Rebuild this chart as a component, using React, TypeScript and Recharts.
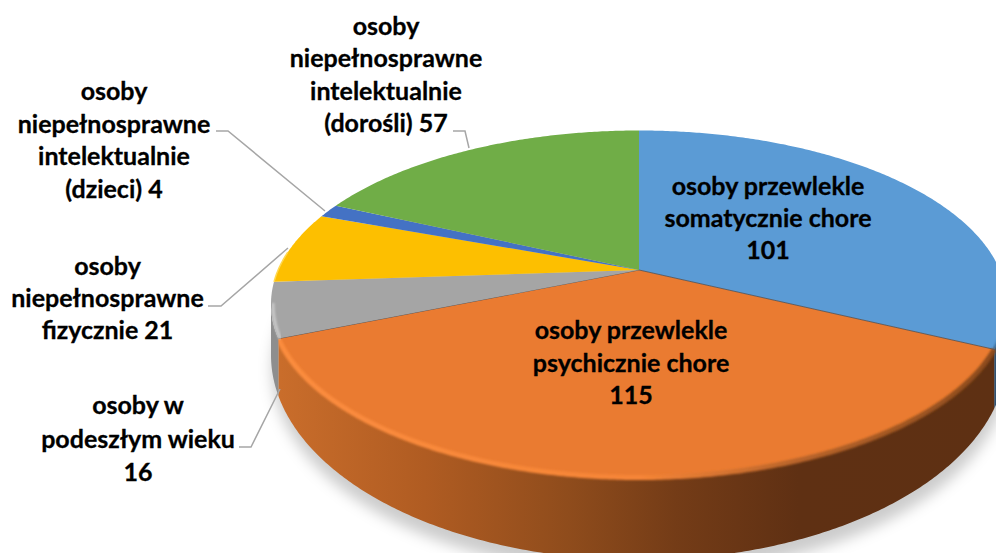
import React from 'react';
import { PieChart, Pie } from 'recharts';

const categories = [
  'osoby przewlekle somatycznie chore',
  'osoby przewlekle psychicznie chore',
  'osoby w podeszłym wieku',
  'osoby niepełnosprawne fizycznie',
  'osoby niepełnosprawne intelektualnie (dzieci)',
  'osoby niepełnosprawne intelektualnie (dorośli)',
];
const values = [101, 115, 16, 21, 4, 57];
const colors = ['#5b9bd5', '#ea7b31', '#a5a5a5', '#fdbf00', '#4472c4', '#70ad47'];
const labelLines = [
  ['osoby przewlekle', 'somatycznie chore', '101'],
  ['osoby przewlekle', 'psychicznie chore', '115'],
  ['osoby w', 'podeszłym wieku', '16'],
  ['osoby', 'niepełnosprawne', 'fizycznie 21'],
  ['osoby', 'niepełnosprawne', 'intelektualnie', '(dzieci) 4'],
  ['osoby', 'niepełnosprawne', 'intelektualnie', '(dorośli) 57'],
];

const rows = categories.map((name, i) => ({ name, value: values[i] }));

// layout of the hand-placed data labels and their leader lines
const labelCenterX = [768, 631, 138, 107.5, 114, 386];
const labelFirstY = [194.5, 339, 414, 275, 100, 35];
const labelStep = [32.4, 32.5, 33.5, 32, 32.6, 32.4];
const leaders = [
  '',
  '',
  '239,447 251,447 280,389',
  '208,306 221,306 288,248',
  '216,131 228,131 325,211',
  '453,131 465,131 469,148',
];

const CX = 639;
const CY = 304;
const RY = 173.5;
const RX = 368;
const TILT = 0.196; // apex offset inside the rim ellipse (perspective)
const BOTTOM = { cy: 355, rx: 368, ry: 205 };

function rim(angle: number) {
  const t = ((90 - angle) * Math.PI) / 180;
  const u = Math.sin(t);
  const v = Math.cos(t);
  const d = 1 + TILT * v;
  return { u: (u * Math.sqrt(1 - TILT * TILT)) / d, v: (v + TILT) / d };
}

function sample(a0: number, a1: number) {
  const n = Math.max(2, Math.ceil(Math.abs(a1 - a0) * 2));
  const out: { u: number; v: number }[] = [];
  for (let i = 0; i <= n; i++) out.push(rim(a0 + ((a1 - a0) * i) / n));
  return out;
}

const topPt = (p: { u: number; v: number }, cx: number, cy: number, rx: number, ry: number) =>
  `${(cx + rx * p.u).toFixed(2)},${(cy - ry * p.v).toFixed(2)}`;

function Slice(props: any) {
  const { cx, cy, outerRadius, startAngle, endAngle, fill, index } = props;
  const ry = outerRadius;
  const rx = (outerRadius * RX) / RY;
  const pts = sample(startAngle, endAngle);
  const apex = `${cx},${(cy - ry * TILT).toFixed(2)}`;
  const arc = pts.map((p) => topPt(p, cx, cy, rx, ry));
  const front = pts.filter((p) => p.v <= 0.01);
  let side = '';
  if (front.length > 1) {
    const a = front.map((p) => topPt(p, cx, cy, rx, ry));
    const b = front.map((p) => topPt(p, cx, BOTTOM.cy, BOTTOM.rx, BOTTOM.ry)).reverse();
    side = 'M' + a.concat(b).join('L') + 'Z';
  }
  const sideFill = index === 1 ? 'url(#sideOrange)' : index === 0 ? '#2f5273' : '#8e8e8e';
  return (
    <g>
      {side && <path d={side} fill={sideFill} />}
      <path d={`M${apex}L${arc.join('L')}Z`} fill={fill} />
      {index === 1 && (
        <>
          <path d={'M' + arc.join('L')} fill="none" stroke="url(#bevelOrange)" strokeWidth={5} filter="url(#soft)" />
          <path d={`M${arc[0]}L${apex}L${arc[arc.length - 1]}`} fill="none" stroke="#4b4f55" strokeWidth={1} strokeOpacity={0.8} />
        </>
      )}
      {index === 2 && front.length > 1 && (
        <path d={'M' + front.map((p) => topPt(p, cx, cy, rx - 2, ry)).join('L')} fill="none" stroke="#c9c9c9" strokeWidth={3} filter="url(#soft)" />
      )}
      {index === 0 && (
        <path d={'M' + arc.slice(Math.floor(arc.length * 0.84)).join('L')} fill="none" stroke="#3c6a94" strokeWidth={3} filter="url(#soft)" />
      )}
      {index === 3 && (
        <path d={'M' + arc.slice(0, Math.floor(arc.length * 0.45)).join('L')} fill="none" stroke="#ffd84f" strokeWidth={1.5} />
      )}
    </g>
  );
}

function SliceLabel(props: any) {
  const i = props.index;
  const lines = labelLines[i];
  return (
    <g>
      {leaders[i] && <polyline points={leaders[i]} fill="none" stroke="#a6a6a6" strokeWidth={1.5} />}
      <text
        textAnchor="middle"
        fontFamily="Lato, 'Open Sans', sans-serif"
        fontWeight={700}
        fontSize={25}
        fill="#000"
        stroke="#000"
        strokeWidth={0.3}
      >
        {lines.map((line, k) => (
          <tspan key={k} x={labelCenterX[i]} y={labelFirstY[i] + k * labelStep[i]}>
            {line}
          </tspan>
        ))}
      </text>
    </g>
  );
}

export default function App() {
  return (
    <div style={{ position: 'absolute', left: 0, top: 0, width: 996, height: 553, overflow: 'hidden', background: '#fff' }}>
      <PieChart width={996} height={553} margin={{ top: 0, right: 0, bottom: 0, left: 0 }}>
        <defs>
          <linearGradient id="sideOrange" gradientUnits="userSpaceOnUse" x1={280} y1={0} x2={1000} y2={0}>
            <stop offset={0} stopColor="#c96d2b" />
            <stop offset={0.2} stopColor="#b05c22" />
            <stop offset={0.4} stopColor="#8f4c1c" />
            <stop offset={0.55} stopColor="#743c17" />
            <stop offset={0.72} stopColor="#5f3013" />
            <stop offset={1} stopColor="#5e3013" />
          </linearGradient>
          <linearGradient id="bevelOrange" gradientUnits="userSpaceOnUse" x1={280} y1={0} x2={1000} y2={0}>
            <stop offset={0} stopColor="#fb8c3e" />
            <stop offset={0.5} stopColor="#f68537" />
            <stop offset={0.72} stopColor="#b8642a" />
            <stop offset={1} stopColor="#8a4a1c" />
          </linearGradient>
          <filter id="soft" x="-5%" y="-5%" width="110%" height="110%">
            <feGaussianBlur stdDeviation={1.3} />
          </filter>
          <filter id="shadow" x="-10%" y="-10%" width="120%" height="120%">
            <feGaussianBlur stdDeviation={7} />
          </filter>
        </defs>
        <ellipse cx={640} cy={369} rx={368} ry={205} fill="#000" fillOpacity={0.2} filter="url(#shadow)" />
        <Pie
          data={rows}
          dataKey="value"
          nameKey="name"
          cx={CX}
          cy={CY}
          innerRadius={0}
          outerRadius={RY}
          startAngle={90}
          endAngle={-270}
          paddingAngle={0}
          stroke="none"
          fill="#5b9bd5"
          isAnimationActive={false}
          shape={(p: any, i: number) => <Slice {...p} index={p.index ?? i} fill={colors[p.index ?? i]} />}
          label={(p: any) => <SliceLabel {...p} />}
          labelLine={false}
        />
      </PieChart>
    </div>
  );
}
